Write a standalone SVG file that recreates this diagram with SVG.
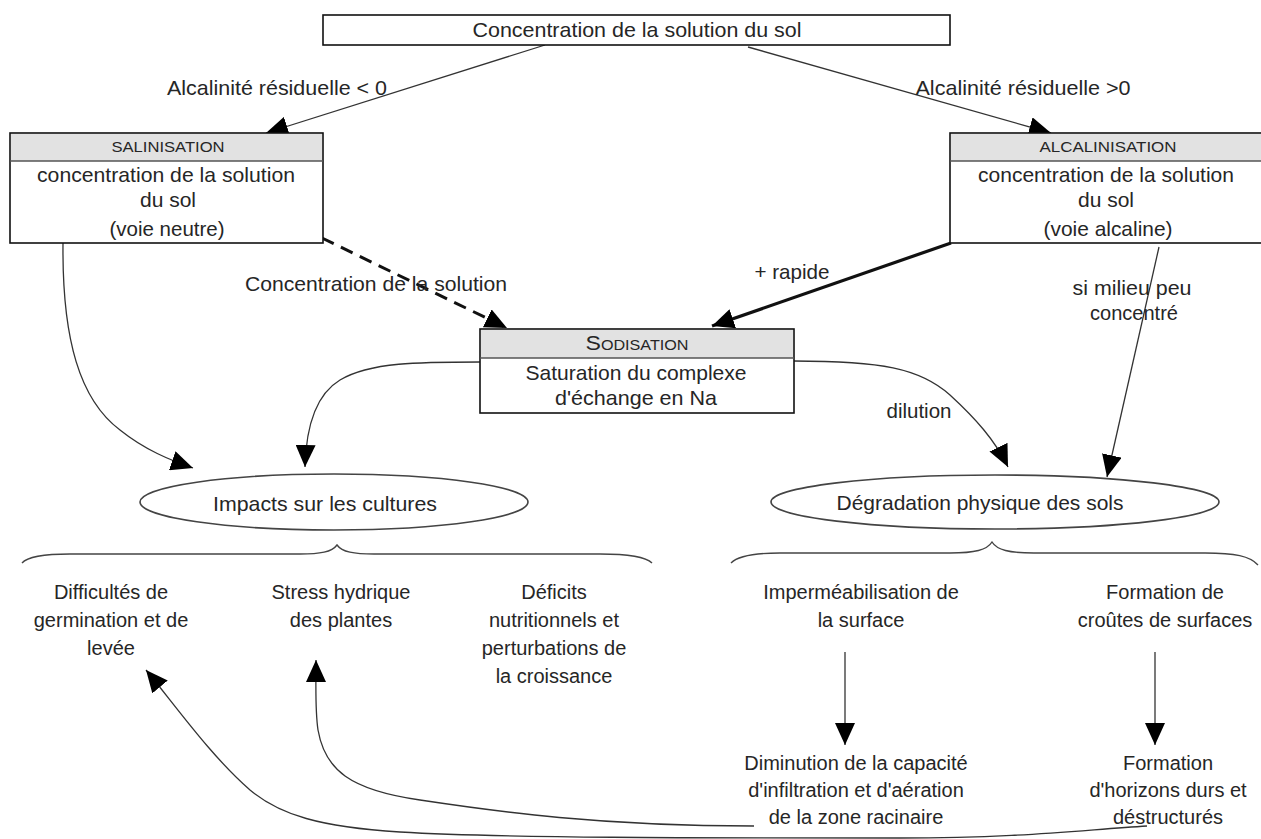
<svg xmlns="http://www.w3.org/2000/svg" width="1261" height="839" viewBox="0 0 1261 839">
<style>
text{font-family:"Liberation Sans",Arial,sans-serif;fill:#262626;text-anchor:middle;dominant-baseline:central}
.t{font-size:21px}
.b{font-size:20px}
.h{font-size:15px}
.sc{font-size:20px;font-variant:small-caps}
.box{fill:#fff;stroke:#111;stroke-width:1.6}
.hdr{fill:#e2e2e2;stroke:none}
.sep{stroke:#555;stroke-width:1.6}
.ell{fill:#fff;stroke:#444;stroke-width:1.6}
.c{fill:none;stroke:#333;stroke-width:1.3}
.thick{fill:none;stroke:#111;stroke-width:3.2}
.dash{fill:none;stroke:#111;stroke-width:3;stroke-dasharray:13 8}
.br{fill:none;stroke:#444;stroke-width:1.4}
</style>
<defs>
<marker id="ah" viewBox="0 0 22 20" refX="22" refY="10" markerWidth="22" markerHeight="20" markerUnits="userSpaceOnUse" orient="auto">
<path d="M0,0 L22,10 L0,20 z" fill="#000"/>
</marker>
</defs>
<rect width="1261" height="839" fill="#fff"/>

<g id="connectors">
<path class="c" d="M545,45 L266,133" marker-end="url(#ah)"/>
<path class="c" d="M748,47 L1051,133" marker-end="url(#ah)"/>
<path class="dash" d="M322,238 L507,328" marker-end="url(#ah)"/>
<path class="thick" d="M951,243 L712,326" marker-end="url(#ah)"/>
<path class="c" d="M63,243 C62,340 80,400 120,430 C145,450 170,460 193,468" marker-end="url(#ah)"/>
<path class="c" d="M480,362 C420,362 370,362 340,380 C315,395 306,430 305,467" marker-end="url(#ah)"/>
<path class="c" d="M794,361 C880,361 920,368 950,395 C975,418 995,440 1008,467" marker-end="url(#ah)"/>
<path class="c" d="M1159,247 L1107,477" marker-end="url(#ah)"/>
<path class="c" d="M845,652 L845,745" marker-end="url(#ah)"/>
<path class="c" d="M1155,652 L1155,745" marker-end="url(#ah)"/>
<path class="c" d="M754,826 C600,826 500,812 420,800 C350,790 325,770 318,730 C315,710 316,690 316,660" marker-end="url(#ah)"/>
<path class="c" d="M1147,826 C1080,830 1020,838 900,838 C700,838 500,838 400,832 C320,827 280,815 250,790 C210,755 175,705 146,670" marker-end="url(#ah)"/>
<path class="br" d="M22,563 C28,556 45,554 70,554 L300,554 C320,554 332,552 337,545 C342,552 354,554 374,554 L600,554 C625,554 645,556 652,563"/>
<path class="br" d="M731,563 C738,556 755,553 780,553 L950,553 C975,553 987,550 992,542 C997,550 1009,553 1034,553 L1205,553 C1235,553 1250,556 1258,565"/>
</g>

<g id="labels">
<text class="t" x="277" y="87" textLength="220" lengthAdjust="spacingAndGlyphs">Alcalinité résiduelle &lt; 0</text>
<text class="t" x="1023" y="87" textLength="215" lengthAdjust="spacingAndGlyphs">Alcalinité résiduelle &gt;0</text>
<text class="t" x="376" y="283" textLength="262" lengthAdjust="spacingAndGlyphs">Concentration de la solution</text>
<text class="t" x="792" y="271" textLength="75" lengthAdjust="spacingAndGlyphs">+ rapide</text>
<text class="t" x="1132" y="287" textLength="119" lengthAdjust="spacingAndGlyphs">si milieu peu</text>
<text class="t" x="1134" y="312" textLength="88" lengthAdjust="spacingAndGlyphs">concentré</text>
<text class="t" x="919" y="410" textLength="65" lengthAdjust="spacingAndGlyphs">dilution</text>
</g>

<g id="top">
<rect class="box" x="323" y="15" width="627" height="30"/>
<text class="t" x="637" y="29" textLength="329" lengthAdjust="spacingAndGlyphs">Concentration de la solution du sol</text>
</g>

<g id="salinisation">
<rect class="box" x="10" y="133" width="313" height="110"/>
<rect class="hdr" x="11" y="134" width="311" height="27"/>
<line class="sep" x1="10" y1="161" x2="323" y2="161"/>
<text class="h" x="168" y="146" textLength="113" lengthAdjust="spacingAndGlyphs">SALINISATION</text>
<text class="t" x="166" y="174" textLength="258" lengthAdjust="spacingAndGlyphs">concentration de la solution</text>
<text class="t" x="168" y="199">du sol</text>
<text class="t" x="167" y="228" textLength="115" lengthAdjust="spacingAndGlyphs">(voie neutre)</text>
</g>

<g id="alcalinisation">
<rect class="box" x="950" y="133" width="314" height="110"/>
<rect class="hdr" x="951" y="134" width="312" height="27"/>
<line class="sep" x1="950" y1="161" x2="1264" y2="161"/>
<text class="h" x="1108" y="146" textLength="137" lengthAdjust="spacingAndGlyphs">ALCALINISATION</text>
<text class="t" x="1106" y="174" textLength="256" lengthAdjust="spacingAndGlyphs">concentration de la solution</text>
<text class="t" x="1106" y="199">du sol</text>
<text class="t" x="1108" y="228" textLength="129" lengthAdjust="spacingAndGlyphs">(voie alcaline)</text>
</g>

<g id="sodisation">
<rect class="box" x="480" y="329" width="314" height="84"/>
<rect class="hdr" x="481" y="330" width="312" height="28"/>
<line class="sep" x1="480" y1="358" x2="794" y2="358"/>
<text class="sc" x="637" y="343" textLength="103" lengthAdjust="spacingAndGlyphs">Sodisation</text>
<text class="t" x="636" y="372" textLength="221" lengthAdjust="spacingAndGlyphs">Saturation du complexe</text>
<text class="t" x="636" y="397" textLength="162" lengthAdjust="spacingAndGlyphs">d'échange en Na</text>
</g>

<g id="impacts">
<ellipse class="ell" cx="334" cy="502" rx="194" ry="28"/>
<text class="t" x="325" y="503" textLength="224" lengthAdjust="spacingAndGlyphs">Impacts sur les cultures</text>
</g>

<g id="degradation">
<ellipse class="ell" cx="995" cy="502" rx="224" ry="27"/>
<text class="t" x="980" y="502" textLength="287" lengthAdjust="spacingAndGlyphs">Dégradation physique des sols</text>
</g>

<g id="difficultes">
<text class="b" x="111" y="592">Difficultés de</text>
<text class="b" x="111" y="620">germination et de</text>
<text class="b" x="111" y="648">levée</text>
</g>
<g id="stress">
<text class="b" x="341" y="592">Stress hydrique</text>
<text class="b" x="341" y="620">des plantes</text>
</g>
<g id="deficits">
<text class="b" x="554" y="592">Déficits</text>
<text class="b" x="554" y="620">nutritionnels et</text>
<text class="b" x="554" y="648">perturbations de</text>
<text class="b" x="554" y="676">la croissance</text>
</g>
<g id="impermeabilisation">
<text class="b" x="861" y="592">Imperméabilisation de</text>
<text class="b" x="861" y="620">la surface</text>
</g>
<g id="croutes">
<text class="b" x="1165" y="592">Formation de</text>
<text class="b" x="1165" y="620">croûtes de surfaces</text>
</g>
<g id="diminution">
<text class="b" x="856" y="763">Diminution de la capacité</text>
<text class="b" x="856" y="790">d'infiltration et d'aération</text>
<text class="b" x="856" y="817">de la zone racinaire</text>
</g>
<g id="horizons">
<text class="b" x="1168" y="763">Formation</text>
<text class="b" x="1168" y="790">d'horizons durs et</text>
<text class="b" x="1168" y="817">déstructurés</text>
</g>
</svg>
